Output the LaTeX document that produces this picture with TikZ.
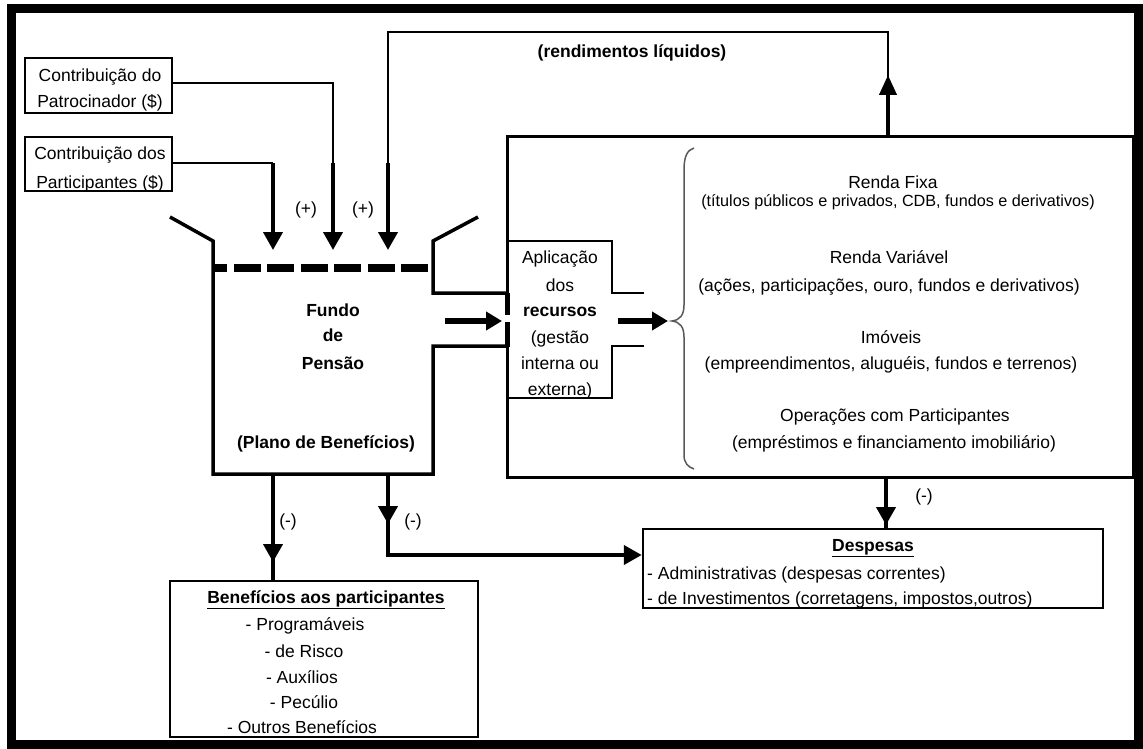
\documentclass[tikz,border=0pt]{standalone}
\usepackage{fontspec}
\setmainfont{Liberation Sans}
\usetikzlibrary{arrows.meta,decorations.markings}

\tikzset{
  txt/.style={font=\fontsize{17.5}{20}\selectfont, inner sep=0pt, anchor=base},
  btxt/.style={font=\fontsize{17.5}{20}\selectfont\bfseries, inner sep=0pt, anchor=base},
  stxt/.style={font=\fontsize{16.2}{19}\selectfont, inner sep=0pt, anchor=base},
  ltxt/.style={font=\fontsize{17.5}{20}\selectfont, inner sep=0pt, anchor=base west},
  box/.style={draw, line width=2.5pt, inner sep=0pt},
  wall/.style={line width=3.5pt},
  thin/.style={line width=2pt},
  flow/.style={line width=4pt},
  tip/.style={-{Triangle[length=18pt,width=19pt]}},
  midtip/.style={postaction={decorate}, decoration={markings,
      mark=at position #1 with {\arrow{Triangle[length=18pt,width=19pt]}}}},
}

\begin{document}
\begin{tikzpicture}[x=1pt,y=-1pt]
\useasboundingbox (0,0) rectangle (1143,749);
\fill[white] (0,0) rectangle (1143,749);

% outer frame
\draw[line width=9pt] (11.5,9) rectangle (1138.5,744.5);

% contribution boxes
\node[box, minimum width=147pt, minimum height=55pt] (patro) at (98.5,85.5) {};
\node[box, minimum width=147pt, minimum height=54pt] (partic) at (98.5,164) {};
\node[txt] (patroA) at (100,82) {Contribuição do};
\node[txt] (patroB) at (100,108) {Patrocinador (\$)};
\node[txt] (particA) at (100,160) {Contribuição dos};
\node[txt] (particB) at (100,188) {Participantes (\$)};

% fund (funnel-shaped tank)
\coordinate (fundBL) at (213,474);
\coordinate (fundBR) at (433,474);
\draw[wall] (170,217) -- (213,241) -- (fundBL) -- (fundBR) -- (433,346) -- (507,346);
\draw[wall] (478,217) -- (433,241) -- (433,293) -- (507,293);
\draw[line width=8pt, dash pattern=on 27pt off 6.5pt, dash phase=13pt] (213,268) -- (433,268);
\node[btxt] (fundo) at (333,316) {Fundo};
\node[btxt] (fde) at (333,341) {de};
\node[btxt] (pensao) at (333,369) {Pensão};
\node[btxt] (plano) at (326,448) {(Plano de Benefícios)};

% investment box
\coordinate (invTL) at (507,137);
\coordinate (invTR) at (1133,137);
\coordinate (invBR) at (1133,477);
\coordinate (invBL) at (507,477);
\draw[line width=3pt] (507,315) -- (invTL) -- (invTR) -- (invBR) -- (invBL) -- (507,322);
\draw[line width=5pt] (507,293) -- (507,315);
\draw[line width=5pt] (507,322) -- (507,347);

% application box
\draw[box] (644,293) -- (612,293) -- (612,241) -- (507,241);
\draw[box] (644,346) -- (612,346) -- (612,398) -- (507,398);
\node[txt] (apA) at (560,263) {Aplicação};
\node[txt] (apB) at (560,291) {dos};
\node[btxt] (apC) at (560,316) {recursos};
\node[txt] (apD) at (560,343) {(gestão};
\node[txt] (apE) at (560,369) {interna ou};
\node[txt] (apF) at (560,395) {externa)};

% flow through the pipe
\coordinate (inA) at (445,321);
\coordinate (inB) at (502,321);
\coordinate (outA) at (618,321);
\coordinate (outB) at (668,321);
\draw[line width=5.5pt, -{Triangle[length=16pt,width=18pt]}] (inA) -- (inB);
\draw[line width=5.5pt, -{Triangle[length=16pt,width=18pt]}] (outA) -- (outB);

% brace
\draw[gray!70!black, line width=1.5pt]
  (694,148) .. controls (687,150) and (684,157) .. (684,170) -- (684,305)
  .. controls (684,315) and (680,320) .. (672,321)
  .. controls (680,322) and (684,327) .. (684,337) -- (684,455)
  .. controls (684,463) and (688,467) .. (694,469);

% investment categories
\node[txt] (rf) at (893,188) {Renda Fixa};
\node[stxt] (rfd) at (898,206) {(títulos públicos e privados, CDB, fundos e derivativos)};
\node[txt] (rv) at (889,263) {Renda Variável};
\node[txt] (rvd) at (889,291) {(ações, participações, ouro, fundos e derivativos)};
\node[txt] (im) at (891,343) {Imóveis};
\node[txt] (imd) at (891,369) {(empreendimentos, aluguéis, fundos e terrenos)};
\node[txt] (op) at (895,421) {Operações com Participantes};
\node[txt] (opd) at (894,448) {(empréstimos e financiamento imobiliário)};

% net returns loop
\coordinate (retA) at (888,32);
\coordinate (retB) at (388,32);
\coordinate (retC) at (388,163);
\coordinate (in3) at (388,250);
\coordinate (retUp) at (888,75);
\draw[thin] (invTL -| retA) -- (retA) -- (retB) -- (retC);
\draw[flow, -{Triangle[length=20pt,width=17pt]}] (invTL -| retA) -- (retUp);
\draw[flow, tip] (retC) -- (in3);
\node[btxt] (rend) at (632,58) {(rendimentos líquidos)};

% contributions into the fund
\coordinate (c1a) at (172,83);
\coordinate (c1b) at (333,83);
\coordinate (c1c) at (333,163);
\coordinate (in2) at (333,250);
\draw[thin] (c1a) -- (c1b) -- (c1c);
\draw[flow, tip] (c1c) -- (in2);
\coordinate (c2a) at (172,163);
\coordinate (c2b) at (273,163);
\coordinate (in1) at (273,250);
\draw[thin] (c2a) -- (c2b);
\draw[flow, tip] (c2b) -- (in1);
\node[txt] (plus1) at (306,214) {(+)};
\node[txt] (plus2) at (363,214) {(+)};

% benefits
\node[box, minimum width=308pt, minimum height=156pt] (benef) at (324,659) {};
\coordinate (bA) at (273,474);
\draw[flow, midtip=88pt] (bA) -- (bA |- benef.north);
\node[txt] (minus1) at (288,526) {(-)};
\node[btxt] (bT) at (326,603) {\underline{Benefícios aos participantes}};
\node[txt] (b1) at (305,630) {- Programáveis};
\node[txt] (b2) at (304,657) {- de Risco};
\node[txt] (b3) at (302,683) {- Auxílios};
\node[txt] (b4) at (304,708) {- Pecúlio};
\node[txt] (b5) at (302,733) {- Outros Benefícios};

% expenses
\node[box, minimum width=460pt, minimum height=79pt] (desp) at (873,568.5) {};
\coordinate (dA) at (388,474);
\coordinate (dB) at (388,555);
\draw[flow, midtip=50pt, tip] (dA) -- (dB) -- (dB -| desp.west);
\node[txt] (minus2) at (413,526) {(-)};
\coordinate (eA) at (886,477);
\draw[flow, midtip=48pt] (eA) -- (eA |- desp.north);
\node[txt] (minus3) at (924,501) {(-)};
\node[btxt] (dT) at (873,551) {\underline{Despesas}};
\node[ltxt] (d1) at (647,579) {- Administrativas (despesas correntes)};
\node[ltxt] (d2) at (647,604) {- de Investimentos (corretagens, impostos,outros)};
\end{tikzpicture}
\end{document}
